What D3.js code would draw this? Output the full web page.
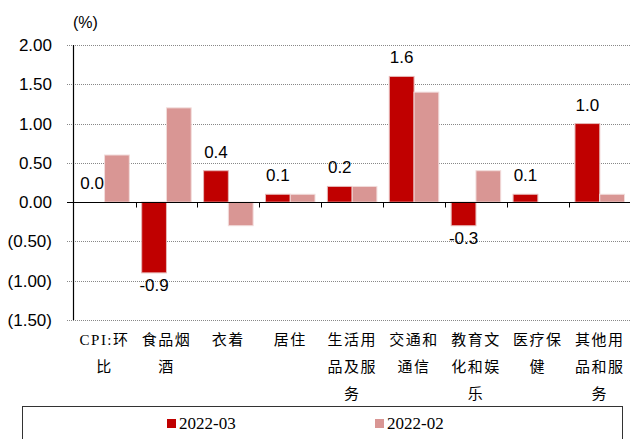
<!DOCTYPE html>
<html><head><meta charset="utf-8">
<script src="https://cdn.jsdelivr.net/npm/d3@7/dist/d3.min.js"></script>
<style>body{margin:0;background:#fff}svg{display:block}</style>
</head><body>
<svg id="c" width="630" height="439"></svg>
<script>
const categories = [["CPI:环","比"],["食品烟","酒"],["衣着"],["居住"],["生活用","品及服","务"],["交通和","通信"],["教育文","化和娱","乐"],["医疗保","健"],["其他用","品和服","务"]];
const seriesNames = ["2022-03","2022-02"];
const mar = [0.0,-0.9,0.4,0.1,0.2,1.6,-0.3,0.1,1.0];
const feb = [0.6,1.2,-0.3,0.1,0.2,1.4,0.4,0.0,0.1];
const yTicks = [2.0,1.5,1.0,0.5,0.0,-0.5,-1.0,-1.5];
const colors = ["#C00000","#D99694"];

(function(){
const svg = d3.select("#c");
const pL = 73.6, pR = 630.7, pT = 45, pB = 320;
const x0 = d3.scaleBand().domain(d3.range(categories.length)).range([pL,pR]).padding(0);
const x1 = d3.scaleBand().domain([0,1]).range([x0.bandwidth()*0.1, x0.bandwidth()*0.9]).padding(0);
const y = d3.scaleLinear().domain([-1.5,2]).range([pB,pT]);

const fmt = v => v < 0 ? "(" + Math.abs(v).toFixed(2) + ")" : v.toFixed(2);
const SANS = "'Liberation Sans', Arial, sans-serif";
const SERIF = "'Liberation Serif', 'Times New Roman', serif";

// grid
svg.append("g").selectAll("line").data(yTicks.filter(t=>t!==0)).join("line")
  .attr("x1",67).attr("x2",630).attr("y1",d=>Math.round(y(d))+0.5).attr("y2",d=>Math.round(y(d))+0.5)
  .attr("stroke","#888").attr("stroke-width",1.2).attr("stroke-dasharray","1,1");

// y labels
svg.append("g").selectAll("text").data(yTicks).join("text")
  .attr("x",52).attr("y",d=>y(d)+6).attr("text-anchor","end")
  .attr("font-family",SANS).attr("font-size",17).attr("fill","#000")
  .text(fmt);
svg.append("text").attr("x",73).attr("y",28).attr("font-family",SANS)
  .attr("font-size",16).text("(%)");

// bars
const data = [];
categories.forEach((c,i)=>{ [mar[i],feb[i]].forEach((v,s)=>data.push({i,s,v})); });
svg.append("g").selectAll("rect").data(data.filter(d=>d.v!==0)).join("rect")
  .attr("x",d=>x0(d.i)+x1(d.s)).attr("width",x1.bandwidth())
  .attr("y",d=>y(Math.max(0,d.v))).attr("height",d=>Math.abs(y(d.v)-y(0)))
  .attr("fill",d=>colors[d.s])
  .attr("stroke",d=>d.s===1?"#F2DCDB":"#E6B8B7").attr("stroke-width",1);

// axis lines
const zy = Math.round(y(0))+0.5;
svg.append("line").attr("x1",67).attr("x2",630).attr("y1",zy).attr("y2",zy).attr("stroke","#000").attr("stroke-width",1.2);
svg.append("line").attr("x1",73.5).attr("x2",73.5).attr("y1",pT).attr("y2",pB).attr("stroke","#000").attr("stroke-width",1.2);
svg.append("g").selectAll("line").data(d3.range(1,categories.length)).join("line")
  .attr("x1",d=>Math.round(x0(d))+0.5).attr("x2",d=>Math.round(x0(d))+0.5)
  .attr("y1",zy).attr("y2",zy+5).attr("stroke","#000").attr("stroke-width",1);

// value labels
svg.append("g").selectAll("text").data(mar.map((v,i)=>({v,i}))).join("text")
  .attr("x",d=>x0(d.i)+x1(0)+x1.bandwidth()/2)
  .attr("y",d=>d.v<0 ? y(d.v)+18 : y(d.v)-13)
  .attr("text-anchor","middle").attr("font-family",SANS)
  .attr("font-size",17).attr("fill","#000").text(d=>d.v.toFixed(1));

// x labels
const xl = svg.append("g");
categories.forEach((lines,i)=>{
  lines.forEach((t,k)=>{
    xl.append("text").attr("x",x0(i)+x0.bandwidth()/2).attr("y",345+k*27)
      .attr("text-anchor","middle").attr("font-family","'Liberation Serif', 'Noto Sans CJK SC', serif")
      .attr("font-size",15).attr("letter-spacing",1.5).attr("fill","#000").text(t);
  });
});

// legend
svg.append("rect").attr("x",22.5).attr("y",406.5).attr("width",600).attr("height",40)
  .attr("fill","none").attr("stroke","#333").attr("stroke-width",1);
const lx = [167,375];
seriesNames.forEach((n,s)=>{
  svg.append("rect").attr("x",lx[s]).attr("y",419).attr("width",9).attr("height",9).attr("fill",colors[s]);
  svg.append("text").attr("x",lx[s]+12).attr("y",428.5).attr("font-family",SERIF)
    .attr("font-size",17).attr("fill","#000").text(n);
});
})();
</script>
</body></html>
